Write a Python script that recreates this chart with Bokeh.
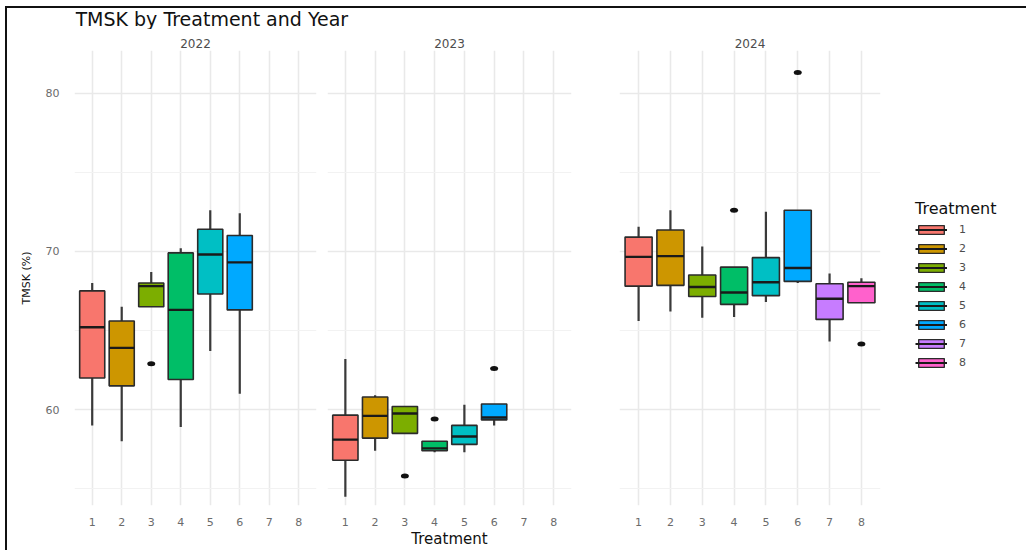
from bokeh.plotting import figure
from bokeh.models import Range1d, FixedTicker, ColumnDataSource, Legend, LegendItem
from bokeh.layouts import row, column
from bokeh.embed import file_html
from bokeh.resources import INLINE
from bokeh.core.properties import value

# ---------------- data ----------------
treatments = [1, 2, 3, 4, 5, 6, 7, 8]
tick_labels = ["1", "2", "3", "4", "5", "6", "7", "8"]
colors = ["#F8766D", "#CD9600", "#7CAE00", "#00BE67",
          "#00BFC4", "#00A9FF", "#C77CFF", "#FF61CC"]
years = ["2022", "2023", "2024"]

trt_2022 = [1, 2, 3, 4, 5, 6]
lower_2022 = [59.0, 58.0, 66.5, 58.9, 63.7, 61.0]
q1_2022 = [62.0, 61.5, 66.5, 61.9, 67.3, 66.3]
med_2022 = [65.2, 63.9, 67.8, 66.3, 69.8, 69.3]
q3_2022 = [67.5, 65.6, 68.0, 69.9, 71.4, 71.0]
upper_2022 = [68.0, 66.5, 68.7, 70.2, 72.6, 72.4]
out_trt_2022 = [3]
out_val_2022 = [62.9]

trt_2023 = [1, 2, 3, 4, 5, 6]
lower_2023 = [54.5, 57.4, 58.5, 57.3, 57.3, 59.0]
q1_2023 = [56.8, 58.2, 58.5, 57.4, 57.8, 59.35]
med_2023 = [58.1, 59.6, 59.75, 57.55, 58.3, 59.5]
q3_2023 = [59.65, 60.8, 60.2, 58.0, 59.0, 60.35]
upper_2023 = [63.2, 60.9, 60.2, 58.0, 60.3, 60.35]
out_trt_2023 = [3, 4, 6]
out_val_2023 = [55.8, 59.4, 62.6]

trt_2024 = [1, 2, 3, 4, 5, 6, 7, 8]
lower_2024 = [65.6, 66.2, 65.8, 65.85, 66.8, 68.0, 64.3, 66.75]
q1_2024 = [67.8, 67.85, 67.15, 66.65, 67.2, 68.1, 65.7, 66.75]
med_2024 = [69.65, 69.7, 67.75, 67.4, 68.05, 68.95, 67.0, 67.8]
q3_2024 = [70.9, 71.35, 68.5, 69.0, 69.6, 72.6, 67.95, 68.05]
upper_2024 = [71.55, 72.6, 70.3, 69.0, 72.5, 72.6, 68.6, 68.3]
out_trt_2024 = [4, 6, 8]
out_val_2024 = [72.6, 81.3, 64.15]

y_ticks = [60, 70, 80]
y_minor_ticks = [55, 65, 75]

# ---------------- styling ----------------
FONT = "DejaVu Sans"
BOX_W = 0.85
PANEL_H = 521
B_TOP = 21
B_BOT = 35
y_range = Range1d(53.94, 82.69)


def make_panel(year, trt, lo, q1, med, q3, hi, out_t, out_v,
               width, b_left, b_right, show_y, x_label):
    p = figure(width=width, height=PANEL_H,
               x_range=Range1d(0.4, 8.6), y_range=y_range,
               toolbar_location=None, output_backend="svg",
               y_axis_location="left" if show_y else None,
               min_border_left=b_left, min_border_right=b_right,
               min_border_top=B_TOP, min_border_bottom=B_BOT)
    p.outline_line_color = None
    p.background_fill_color = "white"
    p.border_fill_color = "white"

    p.title.text = year
    p.title.align = "center"
    p.title.text_font = FONT
    p.title.text_font_size = "12px"
    p.title.text_font_style = "normal"
    p.title.text_color = "#4d4d4d"
    p.title.standoff = 5

    p.xgrid.ticker = FixedTicker(ticks=treatments)
    p.xgrid.grid_line_color = "#E9E9E9"
    p.xgrid.grid_line_width = 1.6
    p.ygrid.ticker = FixedTicker(ticks=y_ticks, minor_ticks=y_minor_ticks)
    p.ygrid.grid_line_color = "#E9E9E9"
    p.ygrid.grid_line_width = 1.6
    p.ygrid.minor_grid_line_color = "#F2F2F2"
    p.ygrid.minor_grid_line_width = 1

    p.xaxis.ticker = FixedTicker(ticks=treatments)
    p.xaxis.major_label_overrides = {t: l for t, l in zip(treatments, tick_labels)}
    for ax in p.axis:
        ax.axis_line_color = None
        ax.major_tick_line_color = None
        ax.minor_tick_line_color = None
        ax.major_label_text_font = FONT
        ax.major_label_text_font_size = "11px"
        ax.major_label_text_color = "#6b6b6b"
        ax.axis_label_text_font = FONT
        ax.axis_label_text_font_style = "normal"
        ax.axis_label_text_color = "#111111"
    p.xaxis.major_label_standoff = 6
    if x_label:
        p.xaxis.axis_label = x_label
        p.xaxis.axis_label_text_font_size = "15px"
        p.xaxis.axis_label_standoff = 1
    if show_y:
        p.yaxis.ticker = FixedTicker(ticks=y_ticks)
        p.yaxis.axis_label = "TMSK (%)"
        p.yaxis.axis_label_text_font_size = "11px"
        p.yaxis.major_label_standoff = 9
        p.yaxis.axis_label_standoff = 10

    src = ColumnDataSource(dict(
        x=trt, lo=lo, q1=q1, med=med, q3=q3, hi=hi,
        x0=[t - BOX_W / 2 for t in trt], x1=[t + BOX_W / 2 for t in trt],
        color=[colors[t - 1] for t in trt]))

    p.segment(x0="x", y0="q3", x1="x", y1="hi", source=src,
              line_color="#3a3a3a", line_width=2.2)
    p.segment(x0="x", y0="q1", x1="x", y1="lo", source=src,
              line_color="#3a3a3a", line_width=2.2)
    p.vbar(x="x", width=BOX_W, bottom="q1", top="q3", source=src,
           fill_color="color", line_color="#2b2b2b", line_width=1.6)
    p.segment(x0="x0", y0="med", x1="x1", y1="med", source=src,
              line_color="#1a1a1a", line_width=2.4)
    p.ellipse(x=out_t, y=out_v, width=8, height=5,
              width_units="screen", height_units="screen",
              fill_color="#111111", line_color=None)
    return p


p1 = make_panel("2022", trt_2022, lower_2022, q1_2022, med_2022, q3_2022,
                upper_2022, out_trt_2022, out_val_2022,
                width=314, b_left=67, b_right=5, show_y=True, x_label=None)
p2 = make_panel("2023", trt_2023, lower_2023, q1_2023, med_2023, q3_2023,
                upper_2023, out_trt_2023, out_val_2023,
                width=274, b_left=6, b_right=24, show_y=False,
                x_label="Treatment")
p3 = make_panel("2024", trt_2024, lower_2024, q1_2024, med_2024,
                q3_2024, upper_2024, out_trt_2024, out_val_2024,
                width=295, b_left=24, b_right=10, show_y=False, x_label=None)

# ---------------- legend panel ----------------
leg_fig = figure(width=136, height=PANEL_H, x_range=Range1d(0, 1),
                 y_range=Range1d(0, 1), toolbar_location=None,
                 output_backend="svg", x_axis_location=None,
                 y_axis_location=None, min_border_left=0, min_border_right=0,
                 min_border_top=0, min_border_bottom=0)
leg_fig.outline_line_color = None
leg_fig.grid.visible = False
key_src = ColumnDataSource(dict(
    x=treatments, color=colors,
    q1=q1_2024, med=med_2024, q3=q3_2024,
    x0=[t - BOX_W / 2 for t in treatments], x1=[t + BOX_W / 2 for t in treatments]))
key_box = leg_fig.vbar(x="x", width=BOX_W, bottom="q1", top="q3", source=key_src,
                       fill_color="color", line_color="#2b2b2b", line_width=1.4,
                       visible=False)
key_med = leg_fig.segment(x0="x0", y0="med", x1="x1", y1="med", source=key_src,
                          line_color="#1a1a1a", line_width=2.0, visible=False)
items = [LegendItem(label=value(lab), renderers=[key_box, key_med], index=i)
         for i, lab in enumerate(tick_labels)]
legend = Legend(items=items, location=(25, 134), title="Treatment",
                border_line_color=None, background_fill_alpha=0,
                glyph_width=32, glyph_height=11, label_height=17, spacing=2,
                label_standoff=12, padding=0, margin=0,
                inactive_fill_alpha=0)
legend.label_text_font = FONT
legend.label_text_font_size = "11px"
legend.label_text_color = "#4d4d4d"
legend.title_text_font = FONT
legend.title_text_font_size = "16px"
legend.title_text_font_style = "normal"
legend.title_text_color = "#111111"
legend.title_standoff = 3
leg_fig.add_layout(legend, "center")

# ---------------- title strip ----------------
tfig = figure(width=1019, height=21, x_range=Range1d(0, 1), y_range=Range1d(0, 1),
              toolbar_location=None, output_backend="svg",
              x_axis_location=None, y_axis_location=None,
              min_border_left=68, min_border_right=0, min_border_top=0,
              min_border_bottom=0)
tfig.outline_line_color = None
tfig.grid.visible = False
tfig.text(x=[0], y=[0.5], text=["TMSK by Treatment and Year"],
          text_font=value(FONT), text_font_size="19px",
          text_baseline="middle", text_align="left", text_color="#111111")

layout = column(tfig, row(p1, p2, p3, leg_fig), margin=(6, 0, 0, 5),
                styles={"border-top": "2px solid #111", "border-left": "2px solid #111"})

open("out.html", "w").write(file_html(layout, INLINE))
